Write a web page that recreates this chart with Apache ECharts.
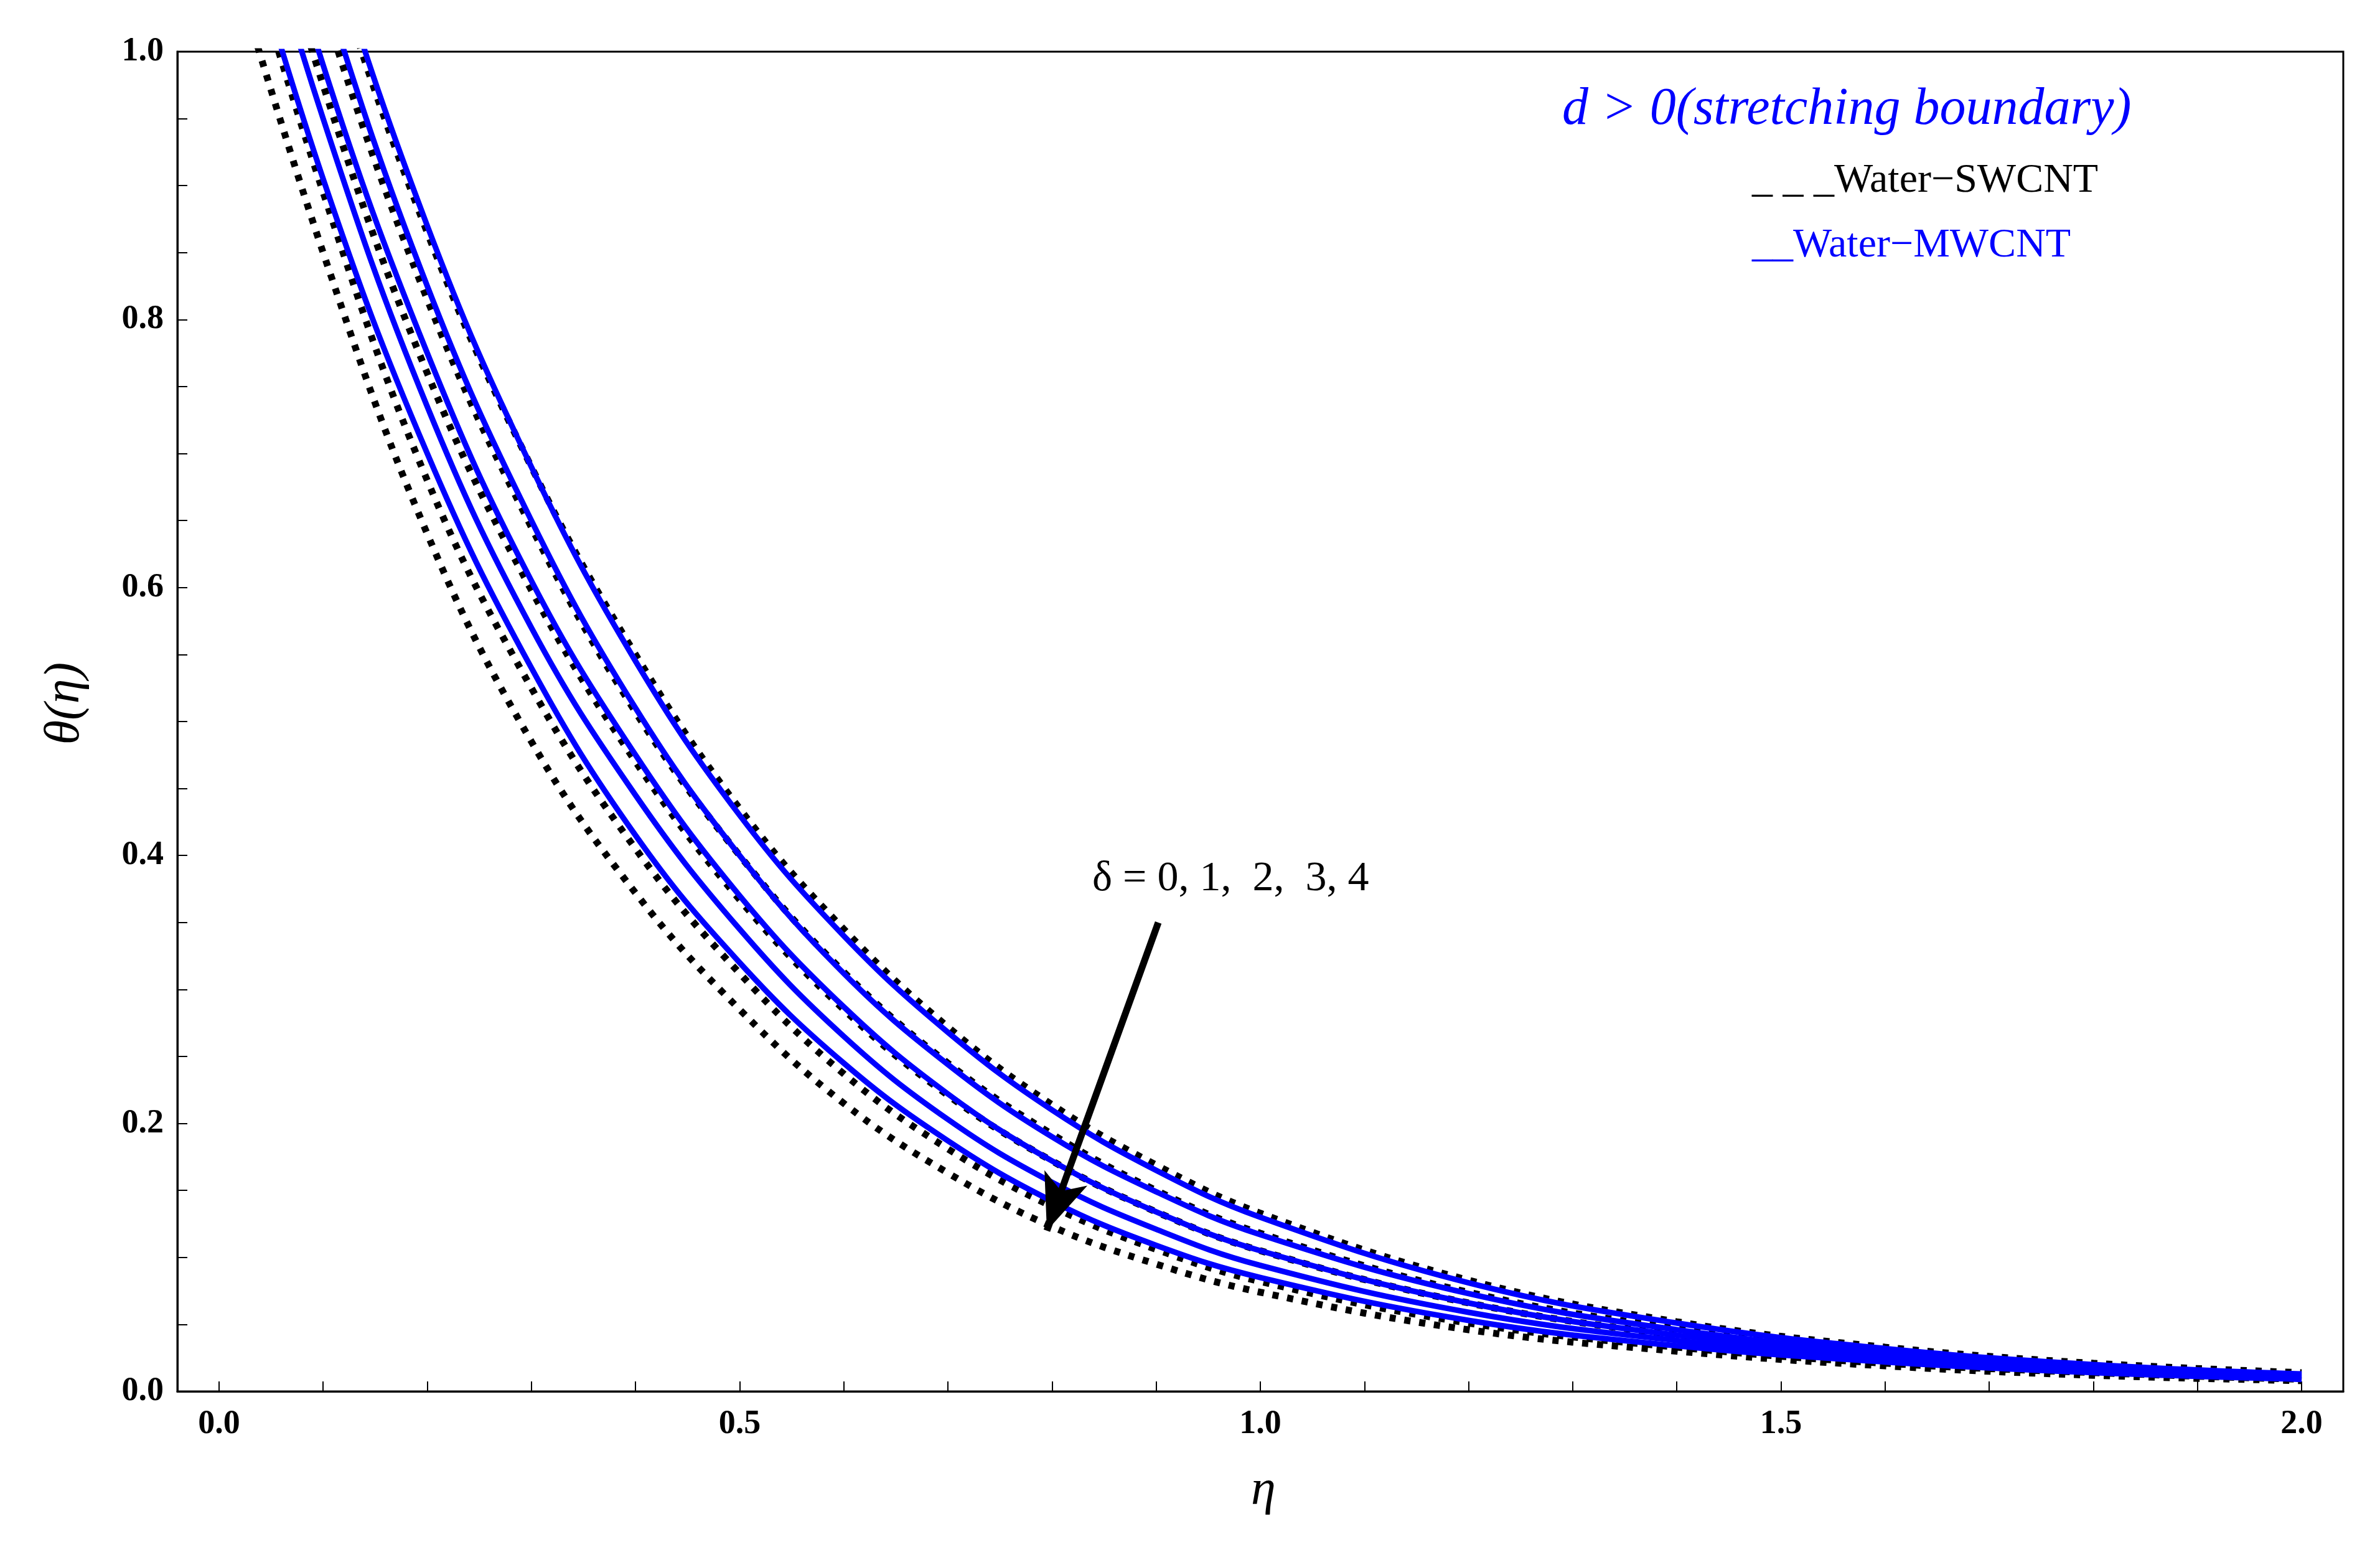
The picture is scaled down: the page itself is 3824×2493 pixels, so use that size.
<!DOCTYPE html>
<html>
<head>
<meta charset="utf-8">
<script src="https://cdn.jsdelivr.net/npm/echarts@6/dist/echarts.min.js"></script>
<style>html,body{margin:0;padding:0;background:#fff}#main{width:3824px;height:2493px}</style>
</head>
<body>
<div id="main"></div>
<script>
// eta values shared by every curve
var etaValues = [0, 0.1, 0.2, 0.3, 0.4, 0.5, 0.6, 0.7, 0.8, 0.9, 1.0, 1.2, 1.4, 1.6, 1.8, 2.0];

// Water-MWCNT (solid blue), delta = 0..4
var mwcnt0 = [1.38, 1.10, 0.87, 0.69, 0.545, 0.43, 0.34, 0.268, 0.210, 0.165, 0.130, 0.081, 0.051, 0.032, 0.020, 0.013];
var mwcnt1 = [1.32, 1.05, 0.825, 0.65, 0.51, 0.40, 0.312, 0.244, 0.190, 0.149, 0.117, 0.073, 0.046, 0.029, 0.018, 0.012];
var mwcnt2 = [1.26, 0.99, 0.775, 0.605, 0.475, 0.37, 0.287, 0.222, 0.172, 0.134, 0.105, 0.066, 0.042, 0.027, 0.017, 0.011];
var mwcnt3 = [1.21, 0.95, 0.735, 0.57, 0.445, 0.345, 0.265, 0.203, 0.156, 0.121, 0.094, 0.059, 0.038, 0.024, 0.015, 0.010];
var mwcnt4 = [1.16, 0.905, 0.70, 0.54, 0.415, 0.32, 0.245, 0.187, 0.142, 0.109, 0.085, 0.053, 0.034, 0.022, 0.014, 0.009];

// Water-SWCNT (dotted black), delta = 0..4
var swcnt0 = [1.36, 1.09, 0.865, 0.69, 0.55, 0.435, 0.345, 0.272, 0.214, 0.169, 0.133, 0.083, 0.052, 0.033, 0.021, 0.014];
var swcnt1 = [1.30, 1.035, 0.815, 0.645, 0.507, 0.40, 0.313, 0.245, 0.192, 0.150, 0.118, 0.074, 0.047, 0.030, 0.019, 0.012];
var swcnt2 = [1.24, 0.975, 0.76, 0.598, 0.47, 0.367, 0.285, 0.221, 0.172, 0.134, 0.105, 0.066, 0.042, 0.027, 0.017, 0.011];
var swcnt3 = [1.15, 0.895, 0.68, 0.525, 0.405, 0.312, 0.237, 0.181, 0.138, 0.106, 0.082, 0.051, 0.033, 0.021, 0.014, 0.009];
var swcnt4 = [1.10, 0.85, 0.64, 0.485, 0.372, 0.285, 0.215, 0.163, 0.123, 0.095, 0.074, 0.046, 0.030, 0.019, 0.012, 0.008];

var xLabelValues = [0, 0.5, 1.0, 1.5, 2.0];
var xTickValues = [0, 0.1, 0.2, 0.3, 0.4, 0.5, 0.6, 0.7, 0.8, 0.9, 1.0, 1.1, 1.2, 1.3, 1.4, 1.5, 1.6, 1.7, 1.8, 1.9, 2.0];
var yLabelValues = [0, 0.2, 0.4, 0.6, 0.8, 1.0];
var yTickValues = [0, 0.05, 0.1, 0.15, 0.2, 0.25, 0.3, 0.35, 0.4, 0.45, 0.5, 0.55, 0.6, 0.65, 0.7, 0.75, 0.8, 0.85, 0.9, 0.95, 1.0];

var chart = echarts.init(document.getElementById('main'));
var font = 'Liberation Serif';

function pairs(ys) {
    return etaValues.map(function (x, i) { return [x, ys[i]]; });
}

var series = [];
[swcnt0, swcnt1, swcnt2, swcnt3, swcnt4].forEach(function (ys) {
    series.push({ type: 'line', data: pairs(ys), smooth: 0.4, showSymbol: false, clip: true,
        lineStyle: { color: '#000', width: 11, type: [10, 14] } });
});
[mwcnt0, mwcnt1, mwcnt2, mwcnt3, mwcnt4].forEach(function (ys) {
    series.push({ type: 'line', data: pairs(ys), smooth: 0.4, showSymbol: false, clip: true,
        lineStyle: { color: '#0000ff', width: 9 } });
});
// arrow annotation
series[0].markLine = {
    silent: true, symbol: ['none', 'arrow'], symbolSize: [55, 90],
    lineStyle: { color: '#000', width: 11, type: 'solid' }, label: { show: false },
    data: [[{ coord: [0.902, 0.35] }, { coord: [0.795, 0.12] }]]
};

chart.setOption({
    animation: false,
    backgroundColor: '#fff',
    grid: { left: 285, right: 59, top: 83, bottom: 258, show: true, borderColor: '#000', borderWidth: 3 },
    xAxis: {
        type: 'value', min: -0.04, max: 2.04,
        axisLine: { show: true, onZero: false, lineStyle: { color: '#000', width: 3 } },
        axisTick: { show: true, inside: true, length: 16, customValues: xTickValues, lineStyle: { color: '#000', width: 2 } },
        axisLabel: { customValues: xLabelValues, margin: 26, fontFamily: font, fontWeight: 'bold', fontSize: 54, color: '#000',
            formatter: function (v) { return v.toFixed(1); } },
        splitLine: { show: false }
    },
    yAxis: {
        type: 'value', min: 0, max: 1,
        axisLine: { show: true, onZero: false, lineStyle: { color: '#000', width: 3 } },
        axisTick: { show: true, inside: true, length: 16, customValues: yTickValues, lineStyle: { color: '#000', width: 2 } },
        axisLabel: { customValues: yLabelValues, margin: 22, fontFamily: font, fontWeight: 'bold', fontSize: 54, color: '#000',
            formatter: function (v) { return v.toFixed(1); } },
        splitLine: { show: false }
    },
    series: series,
    graphic: [
        { type: 'text', left: 2010, top: 2355, style: { text: 'η', font: 'italic 80px "Liberation Serif"', fill: '#000' } },
        { type: 'text', x: 105, y: 1130, rotation: Math.PI / 2, style: { text: 'θ(η)', font: 'italic 80px "Liberation Serif"', fill: '#000', align: 'center', verticalAlign: 'middle' } },
        { type: 'text', left: 2510, top: 135, style: { text: 'd > 0(stretching boundary)', font: 'italic 84px "Liberation Serif"', fill: '#0000ff' } },
        { type: 'text', left: 2815, top: 258, style: { text: '_ _ _Water−SWCNT', font: '66px "Liberation Serif"', fill: '#000' } },
        { type: 'text', left: 2815, top: 362, style: { text: '__Water−MWCNT', font: '66px "Liberation Serif"', fill: '#0000ff' } },
        { type: 'text', left: 1755, top: 1378, style: { text: 'δ = 0, 1,  2,  3, 4', font: '68px "Liberation Serif"', fill: '#000' } }
    ]
});
</script>
</body>
</html>
